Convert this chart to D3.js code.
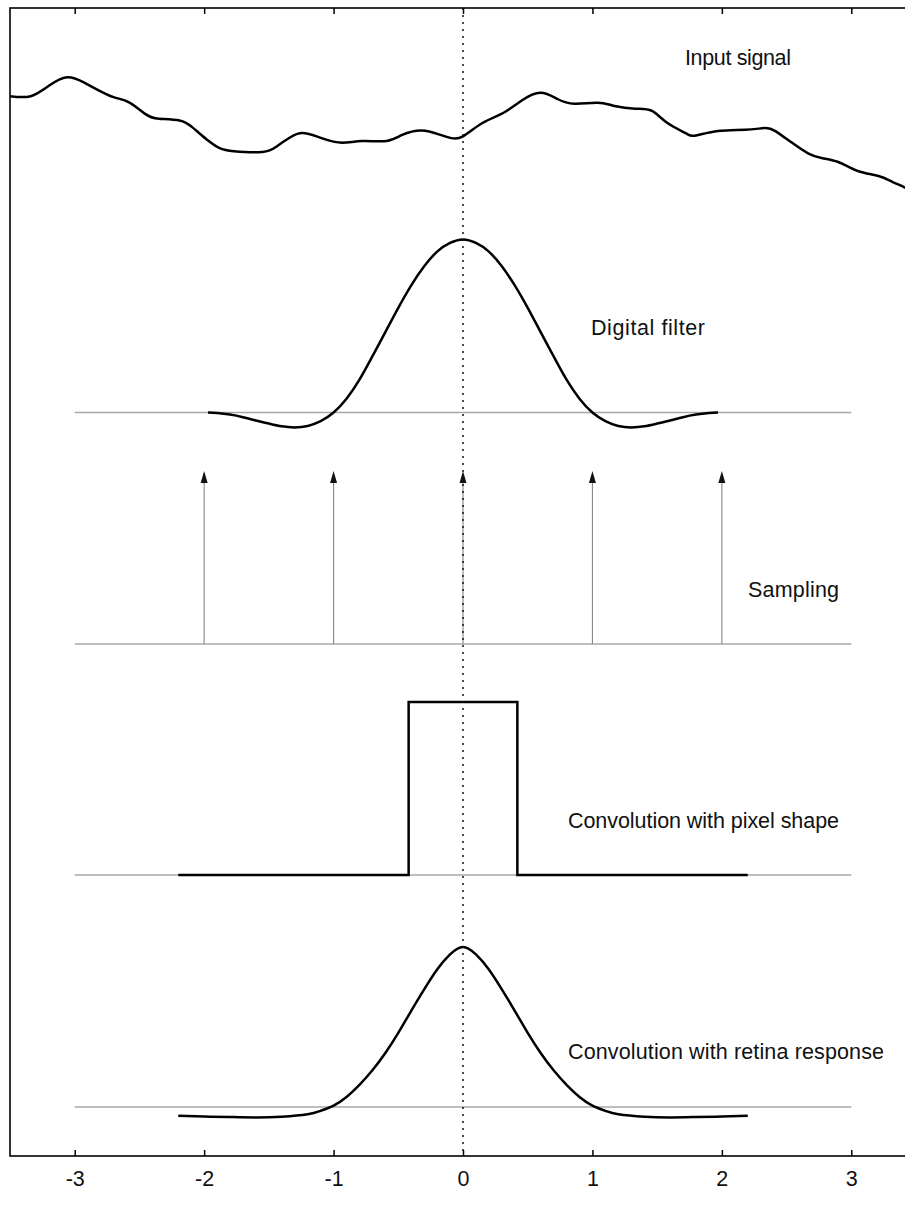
<!DOCTYPE html>
<html><head><meta charset="utf-8">
<script src="https://cdn.jsdelivr.net/npm/d3@7"></script>
<style>html,body{margin:0;padding:0;background:#fff}svg{display:block}text{font-family:"Liberation Sans",Arial,sans-serif;fill:#111}</style>
</head><body><div id="chart"></div>
<script>
// ---- data ----
const xTicks = [-3, -2, -1, 0, 1, 2, 3];
const tickLabels = ["-3", "-2", "-1", "0", "1", "2", "3"];
const panelLabels = ["Input signal", "Digital filter", "Sampling", "Convolution with pixel shape", "Convolution with retina response"];

const inputX = [-3.5,-3.34,-3.2,-3.06,-2.93,-2.83,-2.7,-2.58,-2.45,-2.35,-2.19,-2.09,-1.98,-1.88,-1.77,-1.55,-1.44,-1.34,-1.24,-1.11,-0.95,-0.78,-0.59,-0.47,-0.32,-0.18,-0.09,0,0.15,0.31,0.46,0.6,0.73,0.86,1.04,1.17,1.33,1.46,1.58,1.72,1.79,1.97,2.18,2.33,2.41,2.54,2.67,2.77,2.9,3.05,3.21,3.32,3.42,3.5];
const inputY = [0.49,0.49,0.55,0.6,0.57,0.53,0.485,0.455,0.385,0.36,0.35,0.31,0.24,0.19,0.172,0.168,0.2,0.25,0.277,0.252,0.222,0.231,0.231,0.266,0.292,0.268,0.248,0.258,0.335,0.393,0.468,0.51,0.474,0.447,0.452,0.434,0.418,0.405,0.335,0.277,0.262,0.289,0.296,0.306,0.29,0.222,0.158,0.133,0.11,0.058,0.029,-0.006,-0.04,-0.08];

const filterX = [-1.97,-1.9,-1.8,-1.7,-1.6,-1.5,-1.4,-1.3,-1.2,-1.1,-1.0,-0.9,-0.8,-0.7,-0.6,-0.5,-0.4,-0.3,-0.2,-0.1,0,0.1,0.2,0.3,0.4,0.5,0.6,0.7,0.8,0.9,1.0,1.1,1.2,1.3,1.4,1.5,1.6,1.7,1.8,1.9,1.97];
const filterY = [0,-0.003,-0.012,-0.027,-0.046,-0.064,-0.08,-0.086,-0.078,-0.05,0,0.08,0.19,0.325,0.465,0.605,0.735,0.845,0.93,0.98,1,0.98,0.93,0.845,0.735,0.605,0.465,0.325,0.19,0.08,0,-0.05,-0.078,-0.086,-0.08,-0.064,-0.046,-0.027,-0.012,-0.003,0];

const sampleX = [-2, -1, 0, 1, 2];
const sampleH = [1, 1, 1, 1, 1];

const pixelX = [-2.2, -0.42, -0.42, 0.42, 0.42, 2.2];
const pixelY = [0, 0, 1, 1, 0, 0];

const retinaX = [-2.2,-2.0,-1.8,-1.6,-1.4,-1.2,-1.1,-1.0,-0.9,-0.8,-0.7,-0.6,-0.5,-0.4,-0.3,-0.2,-0.1,0,0.1,0.2,0.3,0.4,0.5,0.6,0.7,0.8,0.9,1.0,1.1,1.2,1.4,1.6,1.8,2.0,2.2];
const retinaY = [-0.05,-0.055,-0.058,-0.06,-0.056,-0.042,-0.022,0.008,0.058,0.128,0.212,0.312,0.428,0.556,0.68,0.795,0.882,0.925,0.882,0.795,0.68,0.556,0.428,0.312,0.212,0.128,0.058,0.008,-0.022,-0.042,-0.056,-0.06,-0.058,-0.055,-0.05];

const baseX = [-3, 3];

// ---- layout ----
const W = 905, H = 1207;
const frame = {left: 10, top: 8, right: 916, bottom: 1156};
const panelBase = [181, 412.5, 644, 875, 1107];
const unitH = 173;
const labelPos = [[791, 57], [705, 327], [839, 589], [839, 820], [884, 1051]];
const labelLen = [106, 114, 91, 271, 316];

const svg = d3.select("#chart").append("svg").attr("width", W).attr("height", H);
svg.append("rect").attr("width", W).attr("height", H).attr("fill", "#fff");

const x = d3.scaleLinear().domain([-3.5, 3.5]).range([frame.left, frame.right]);
const ys = panelBase.map(b => d3.scaleLinear().domain([0, 1]).range([b, b - unitH]));

svg.append("clipPath").attr("id", "clip").append("rect")
  .attr("x", frame.left).attr("y", frame.top)
  .attr("width", frame.right - frame.left).attr("height", frame.bottom - frame.top);

const g = svg.append("g").attr("clip-path", "url(#clip)");

// gray baselines
[1, 2, 3, 4].forEach(i => {
  g.append("line").attr("x1", x(baseX[0])).attr("x2", x(baseX[1]))
    .attr("y1", ys[i](0)).attr("y2", ys[i](0))
    .attr("stroke", "#a8a8a8").attr("stroke-width", 1.5);
});

// sampling arrows
sampleX.forEach((s, i) => {
  const y0 = ys[2](0), y1 = ys[2](sampleH[i]);
  g.append("line").attr("x1", x(s)).attr("x2", x(s)).attr("y1", y0).attr("y2", y1 + 8)
    .attr("stroke", "#888").attr("stroke-width", 1.1);
  g.append("path")
    .attr("d", `M${x(s)},${y1} L${x(s) - 3.5},${y1 + 12} L${x(s) + 3.5},${y1 + 12} Z`)
    .attr("fill", "#111");
});

const lineFn = (ysc, curve) => d3.line().x(d => x(d[0])).y(d => ysc(d[1])).curve(curve);

// input signal
g.append("path").datum(inputX.map((v, i) => [v, inputY[i]]))
  .attr("d", lineFn(ys[0], d3.curveNatural))
  .attr("fill", "none").attr("stroke", "#000").attr("stroke-width", 2.5).attr("stroke-linejoin", "round");

// digital filter
g.append("path").datum(filterX.map((v, i) => [v, filterY[i]]))
  .attr("d", lineFn(ys[1], d3.curveNatural))
  .attr("fill", "none").attr("stroke", "#000").attr("stroke-width", 2.5).attr("stroke-linejoin", "round");

// pixel shape
g.append("path").datum(pixelX.map((v, i) => [v, pixelY[i]]))
  .attr("d", lineFn(ys[3], d3.curveLinear))
  .attr("fill", "none").attr("stroke", "#000").attr("stroke-width", 2.5).attr("stroke-linejoin", "miter");

// retina response
g.append("path").datum(retinaX.map((v, i) => [v, retinaY[i]]))
  .attr("d", lineFn(ys[4], d3.curveNatural))
  .attr("fill", "none").attr("stroke", "#000").attr("stroke-width", 2.5).attr("stroke-linejoin", "round");

// dotted zero line
g.append("line").attr("x1", x(0)).attr("x2", x(0))
  .attr("y1", frame.top).attr("y2", frame.bottom)
  .attr("stroke", "#111").attr("stroke-width", 1.5).attr("stroke-dasharray", "2,5");

// labels
panelLabels.forEach((t, i) => {
  svg.append("text").attr("x", labelPos[i][0] - labelLen[i]).attr("y", labelPos[i][1]).attr("dy", "0.35em")
    .attr("text-anchor", "start").attr("font-size", 21.5)
    .attr("textLength", labelLen[i]).attr("lengthAdjust", "spacing").text(t);
});

// frame
svg.append("rect").attr("x", frame.left).attr("y", frame.top)
  .attr("width", frame.right - frame.left).attr("height", frame.bottom - frame.top)
  .attr("fill", "none").attr("stroke", "#000").attr("stroke-width", 1.6);

// axes
const bottomAxis = d3.axisBottom(x).tickValues(xTicks).tickSize(-6).tickPadding(15)
  .tickFormat((d, i) => tickLabels[i]);
const ba = svg.append("g").attr("transform", `translate(0,${frame.bottom})`).call(bottomAxis);
ba.select(".domain").remove();
ba.selectAll(".tick line").attr("stroke", "#000").attr("stroke-width", 1.5);
ba.selectAll(".tick text").attr("font-size", 21.5).attr("font-family", "Liberation Sans, Arial, sans-serif").attr("fill", "#111");

const topAxis = d3.axisTop(x).tickValues(xTicks).tickSize(-6).tickFormat("");
const ta = svg.append("g").attr("transform", `translate(0,${frame.top})`).call(topAxis);
ta.select(".domain").remove();
ta.selectAll(".tick line").attr("stroke", "#000").attr("stroke-width", 1.5);
</script>
</body></html>
